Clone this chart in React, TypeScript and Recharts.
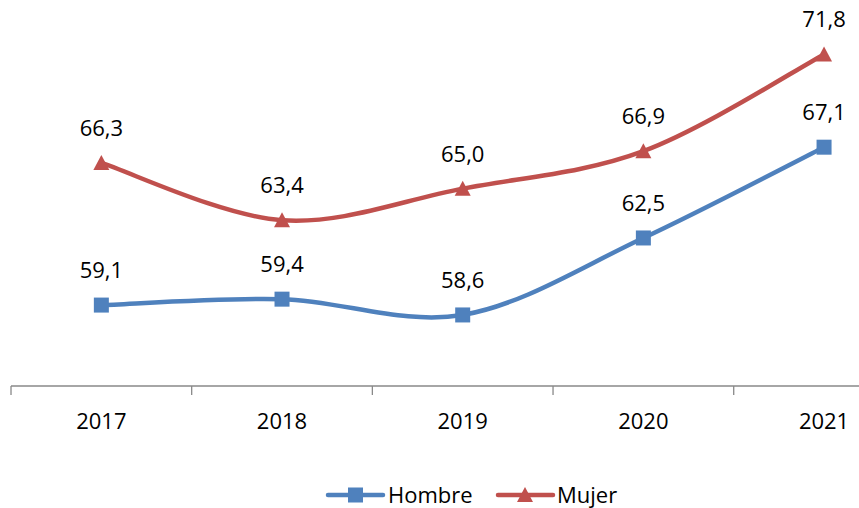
import React from "react";
import { LineChart, Line, XAxis, YAxis, LabelList } from "recharts";

const years = ["2017", "2018", "2019", "2020", "2021"];
const hombre = [59.1, 59.4, 58.6, 62.5, 67.1];
const mujer = [66.3, 63.4, 65.0, 66.9, 71.8];

const data = years.map((y, i) => ({ year: y, Hombre: hombre[i], Mujer: mujer[i] }));

const BLUE = "#4F81BD";
const RED = "#C0504D";
const AXIS = "#898989";
const FONT = "'Open Sans', sans-serif";

// Excel-like smooth curve (Catmull-Rom, uniform, 1/6 control factor)
const excelCurve: any = (context: any) => {
  let pts: [number, number][] = [];
  return {
    areaStart() {},
    areaEnd() {},
    lineStart() {
      pts = [];
    },
    lineEnd() {
      const n = pts.length;
      if (!n) return;
      context.moveTo(pts[0][0], pts[0][1]);
      for (let i = 0; i < n - 1; i++) {
        const p0 = pts[i - 1] || pts[i];
        const p1 = pts[i];
        const p2 = pts[i + 1];
        const p3 = pts[i + 2] || p2;
        context.bezierCurveTo(
          p1[0] + (p2[0] - p0[0]) / 6,
          p1[1] + (p2[1] - p0[1]) / 6,
          p2[0] - (p3[0] - p1[0]) / 6,
          p2[1] - (p3[1] - p1[1]) / 6,
          p2[0],
          p2[1]
        );
      }
    },
    point(x: number, y: number) {
      pts.push([+x, +y]);
    },
  };
};

const SquareDot = (props: any) => {
  const { cx, cy } = props;
  if (cx == null || cy == null) return null;
  return <rect x={cx - 7.5} y={cy - 7.5} width={15} height={15} fill={BLUE} />;
};

const TriangleDot = (props: any) => {
  const { cx, cy } = props;
  if (cx == null || cy == null) return null;
  return (
    <polygon
      points={`${cx},${cy - 8} ${cx + 8},${cy + 7} ${cx - 8},${cy + 7}`}
      fill={RED}
    />
  );
};

const fmt = (v: number) => v.toFixed(1).replace(".", ",");

const ValueLabel = (props: any) => {
  const { x, y, value } = props;
  return (
    <text
      x={x}
      y={y - 27}
      textAnchor="middle"
      fontFamily={FONT}
      fontSize={22}
      fill="#000"
    >
      {fmt(value)}
    </text>
  );
};

const YearTick = (props: any) => {
  const { x, y, payload, width, visibleTicksCount, index } = props;
  const half = width / (2 * visibleTicksCount);
  const axisY = 386;
  return (
    <g>
      <line x1={x - half} y1={axisY} x2={x - half} y2={axisY + 9} stroke={AXIS} strokeWidth={1.3} />
      {index === visibleTicksCount - 1 && (
        <line x1={x + half} y1={axisY} x2={x + half} y2={axisY + 9} stroke={AXIS} strokeWidth={1.3} />
      )}
      <text x={x} y={axisY + 43} textAnchor="middle" fontFamily={FONT} fontSize={22} fill="#000">
        {payload.value}
      </text>
    </g>
  );
};

const Legend = () => (
  <svg width={859} height={508} style={{ position: "absolute", left: 0, top: 0, pointerEvents: "none" }}>
    <line x1={328} y1={495} x2={383} y2={495} stroke={BLUE} strokeWidth={4.5} strokeLinecap="round" />
    <rect x={348} y={487.5} width={15} height={15} fill={BLUE} />
    <text x={388} y={503} fontFamily={FONT} fontSize={22} fill="#000">Hombre</text>
    <line x1={498} y1={495} x2={553} y2={495} stroke={RED} strokeWidth={4.5} strokeLinecap="round" />
    <polygon points="525,487 533,502 517,502" fill={RED} />
    <text x={557} y={503} fontFamily={FONT} fontSize={22} fill="#000">Mujer</text>
  </svg>
);

export default function App() {
  return (
    <div
      style={{
        position: "absolute",
        left: 0,
        top: 0,
        width: 859,
        height: 508,
        overflow: "hidden",
        background: "#fff",
      }}
    >
      <LineChart
        width={930}
        height={508}
        data={data}
        margin={{ top: 11, right: 15.6, left: 11, bottom: 62 }}
      >
        <XAxis
          dataKey="year"
          height={60}
          padding={{ left: 90.35, right: 90.35 }}
          axisLine={{ stroke: AXIS, strokeWidth: 1.3 }}
          tickLine={false}
          tick={<YearTick />}
          interval={0}
        />
        <YAxis hide domain={[55, 74]} />
        <Line
          dataKey="Hombre"
          type={excelCurve}
          stroke={BLUE}
          strokeWidth={4.5}
          dot={<SquareDot />}
          activeDot={false}
          isAnimationActive={false}
        >
          <LabelList dataKey="Hombre" content={<ValueLabel />} />
        </Line>
        <Line
          dataKey="Mujer"
          type={excelCurve}
          stroke={RED}
          strokeWidth={4.5}
          dot={<TriangleDot />}
          activeDot={false}
          isAnimationActive={false}
        >
          <LabelList dataKey="Mujer" content={<ValueLabel />} />
        </Line>
      </LineChart>
      <Legend />
    </div>
  );
}
